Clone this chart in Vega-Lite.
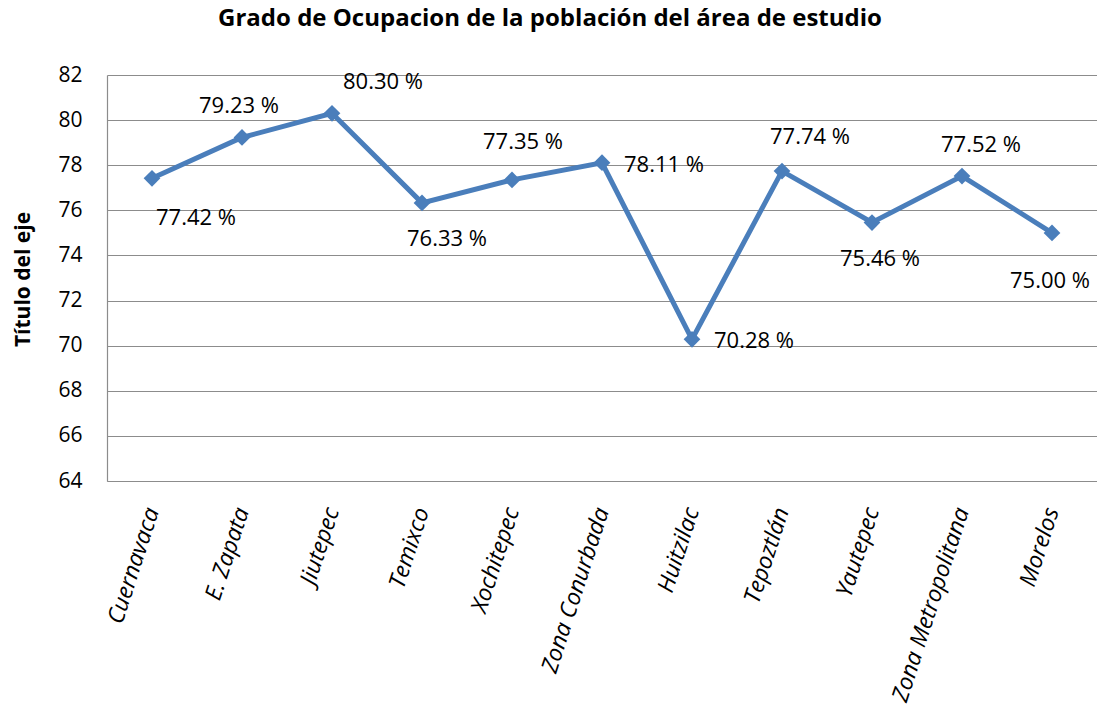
{
  "$schema": "https://vega.github.io/schema/vega-lite/v6.json",
  "width": 990,
  "height": 406,
  "autosize": {"type": "none"},
  "padding": {"left": 107, "top": 75, "right": 0, "bottom": 238},
  "background": "white",
  "title": {
    "text": "Grado de Ocupacion de la población del área de estudio",
    "font": "Open Sans",
    "fontSize": 24,
    "fontWeight": "bold",
    "color": "#000000",
    "anchor": "middle",
    "dx": -52,
    "offset": 33
  },
  "data": {
    "values": [
      {"lugar": "Cuernavaca", "valor": 77.42, "etiqueta": "77.42 %"},
      {"lugar": "E. Zapata", "valor": 79.23, "etiqueta": "79.23 %"},
      {"lugar": "Jiutepec", "valor": 80.30, "etiqueta": "80.30 %"},
      {"lugar": "Temixco", "valor": 76.33, "etiqueta": "76.33 %"},
      {"lugar": "Xochitepec", "valor": 77.35, "etiqueta": "77.35 %"},
      {"lugar": "Zona Conurbada", "valor": 78.11, "etiqueta": "78.11 %"},
      {"lugar": "Huitzilac", "valor": 70.28, "etiqueta": "70.28 %"},
      {"lugar": "Tepoztlán", "valor": 77.74, "etiqueta": "77.74 %"},
      {"lugar": "Yautepec", "valor": 75.46, "etiqueta": "75.46 %"},
      {"lugar": "Zona Metropolitana", "valor": 77.52, "etiqueta": "77.52 %"},
      {"lugar": "Morelos", "valor": 75.00, "etiqueta": "75.00 %"}
    ]
  },
  "encoding": {
    "x": {
      "field": "lugar",
      "type": "nominal",
      "sort": null,
      "scale": {"type": "point", "padding": 0.5},
      "axis": {
        "title": null,
        "labelAngle": -72,
        "labelAlign": "right",
        "labelBaseline": "middle",
        "labelFont": "Open Sans",
        "labelFontStyle": "italic",
        "labelFontSize": 23,
        "labelColor": "#000000",
        "labelPadding": 27,
        "labelLimit": 300,
        "ticks": false,
        "domainColor": "#8c8c8c",
        "domainWidth": 1.2,
        "grid": false
      }
    },
    "y": {
      "field": "valor",
      "type": "quantitative",
      "scale": {"domain": [64, 82], "nice": false, "zero": false},
      "axis": {
        "title": "Título del eje",
        "titleFont": "Open Sans",
        "titleFontSize": 21,
        "titleFontWeight": "bold",
        "titleColor": "#000000",
        "titleAngle": 270,
        "titleX": -84,
        "titleY": 204,
        "titleAlign": "center",
        "titleBaseline": "middle",
        "values": [64, 66, 68, 70, 72, 74, 76, 78, 80, 82],
        "labelFont": "Open Sans",
        "labelFontSize": 21,
        "labelColor": "#000000",
        "labelPadding": 25,
        "ticks": false,
        "domainColor": "#8c8c8c",
        "domainWidth": 1.2,
        "gridColor": "#8c8c8c",
        "gridWidth": 1.2
      }
    }
  },
  "layer": [
    {
      "mark": {"type": "line", "color": "#4a7ebb", "strokeWidth": 5}
    },
    {
      "mark": {"type": "point", "shape": "diamond", "filled": true, "color": "#4a7ebb", "size": 280, "opacity": 1}
    },
    {
      "transform": [{"filter": "datum.lugar == 'Cuernavaca'"}],
      "mark": {"type": "text", "font": "Open Sans", "fontSize": 22, "color": "#000000", "dx": 44, "dy": 40},
      "encoding": {"text": {"field": "etiqueta"}}
    },
    {
      "transform": [{"filter": "datum.lugar == 'E. Zapata'"}],
      "mark": {"type": "text", "font": "Open Sans", "fontSize": 22, "color": "#000000", "dx": -3, "dy": -31},
      "encoding": {"text": {"field": "etiqueta"}}
    },
    {
      "transform": [{"filter": "datum.lugar == 'Jiutepec'"}],
      "mark": {"type": "text", "font": "Open Sans", "fontSize": 22, "color": "#000000", "dx": 51, "dy": -31},
      "encoding": {"text": {"field": "etiqueta"}}
    },
    {
      "transform": [{"filter": "datum.lugar == 'Temixco'"}],
      "mark": {"type": "text", "font": "Open Sans", "fontSize": 22, "color": "#000000", "dx": 25, "dy": 36},
      "encoding": {"text": {"field": "etiqueta"}}
    },
    {
      "transform": [{"filter": "datum.lugar == 'Xochitepec'"}],
      "mark": {"type": "text", "font": "Open Sans", "fontSize": 22, "color": "#000000", "dx": 11, "dy": -38},
      "encoding": {"text": {"field": "etiqueta"}}
    },
    {
      "transform": [{"filter": "datum.lugar == 'Zona Conurbada' || datum.lugar == 'Huitzilac'"}],
      "mark": {"type": "text", "font": "Open Sans", "fontSize": 22, "color": "#000000", "align": "left", "dx": 22, "dy": 2},
      "encoding": {"text": {"field": "etiqueta"}}
    },
    {
      "transform": [{"filter": "datum.lugar == 'Tepoztlán'"}],
      "mark": {"type": "text", "font": "Open Sans", "fontSize": 22, "color": "#000000", "dx": 28, "dy": -34},
      "encoding": {"text": {"field": "etiqueta"}}
    },
    {
      "transform": [{"filter": "datum.lugar == 'Yautepec'"}],
      "mark": {"type": "text", "font": "Open Sans", "fontSize": 22, "color": "#000000", "dx": 8, "dy": 36},
      "encoding": {"text": {"field": "etiqueta"}}
    },
    {
      "transform": [{"filter": "datum.lugar == 'Zona Metropolitana'"}],
      "mark": {"type": "text", "font": "Open Sans", "fontSize": 22, "color": "#000000", "dx": 19, "dy": -31},
      "encoding": {"text": {"field": "etiqueta"}}
    },
    {
      "transform": [{"filter": "datum.lugar == 'Morelos'"}],
      "mark": {"type": "text", "font": "Open Sans", "fontSize": 22, "color": "#000000", "dx": -2, "dy": 48},
      "encoding": {"text": {"field": "etiqueta"}}
    }
  ],
  "config": {"view": {"stroke": null}}
}
